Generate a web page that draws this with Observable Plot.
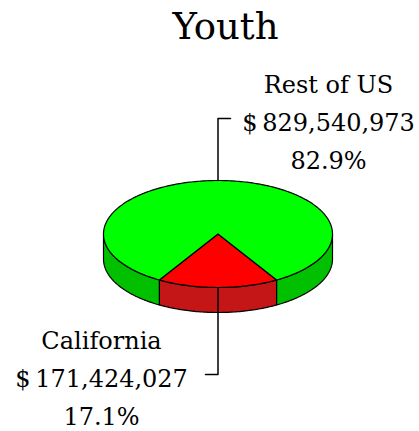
<!DOCTYPE html>
<html><head><meta charset="utf-8">
<script src="https://cdn.jsdelivr.net/npm/d3@7"></script>
<script src="https://cdn.jsdelivr.net/npm/@observablehq/plot@0.6"></script>
<style>body{margin:0;background:#fff}svg{display:block}</style>
</head><body><div id="chart"></div>
<script>
// ---- data ----
const title = "Youth";
const categories = ["California", "Rest of US"];
const amounts = [171424027, 829540973];
const percents = [17.1, 82.9];
const topColors = ["#ff0000", "#00ff00"];
const sideColors = ["#c41616", "#00c000"];

// ---- layout ----
const W = 419, H = 431;
const cx = 217.5, cy = 233.5, rx = 114.5, ry = 53.5, depth = 25;
const labelAnchors = [{x: 101, y: 374, side: -1}, {x: 328, y: 118, side: 1}];
const leaderTick = 12.5;

const fmt = d3.format(",");
const total = d3.sum(amounts);
const span0 = 2 * Math.PI * amounts[0] / total;
const start = Math.PI - span0 / 2;
const arcs = d3.pie().sort(null).startAngle(start).endAngle(start + 2 * Math.PI)(amounts);

const pt = (a, dz = 0) => ({x: cx + rx * Math.sin(a), y: cy - ry * Math.cos(a) + dz});
const steps = (a0, a1) => {
  const n = Math.max(2, Math.ceil(Math.abs(a1 - a0) / (Math.PI / 180)));
  return d3.range(n + 1).map(i => a0 + (a1 - a0) * i / n);
};

// side walls (front half only: a in [pi/2, 3pi/2] mod 2pi)
const sidePts = [];
arcs.forEach((d, i) => {
  for (let k = -1; k <= 2; k++) {
    const lo = Math.PI / 2 + 2 * Math.PI * k, hi = 3 * Math.PI / 2 + 2 * Math.PI * k;
    const a0 = Math.max(d.startAngle, lo), a1 = Math.min(d.endAngle, hi);
    if (a1 - a0 > 1e-6) {
      const id = `side-${i}-${k}`;
      const top = steps(a0, a1).map(a => pt(a));
      const bot = steps(a0, a1).reverse().map(a => pt(a, depth));
      [...top, ...bot].forEach(p => sidePts.push({...p, id, color: sideColors[i]}));
    }
  }
});

// top faces
const topPts = [];
arcs.forEach((d, i) => {
  const id = `top-${i}`;
  topPts.push({x: cx, y: cy, id, color: topColors[i]});
  steps(d.startAngle, d.endAngle).forEach(a => topPts.push({...pt(a), id, color: topColors[i]}));
});

// leaders
const leaderPts = [];
arcs.forEach((d, i) => {
  const am = (d.startAngle + d.endAngle) / 2;
  const e = pt(am);
  const L = labelAnchors[i];
  const id = `lead-${i}`;
  leaderPts.push({x: e.x, y: e.y, id});
  leaderPts.push({x: e.x, y: L.y, id});
  leaderPts.push({x: e.x + L.side * leaderTick, y: L.y, id});
});

const labels = categories.map((c, i) => ({
  x: labelAnchors[i].x, y: labelAnchors[i].y,
  text: `${c}\n$\u2009${fmt(amounts[i])}\n${percents[i].toFixed(1)}%`
}));

const chart = Plot.plot({
  width: W, height: H, margin: 0,
  x: {domain: [0, W], range: [0, W], axis: null},
  y: {domain: [0, H], range: [0, H], axis: null},
  color: {type: "identity"},
  style: {fontFamily: "'DejaVu Serif', serif", background: "#fff", color: "#000"},
  marks: [
    Plot.line(sidePts, {x: "x", y: "y", z: "id", fill: "color", stroke: "#000", strokeWidth: 1.2, curve: "linear-closed"}),
    Plot.line(topPts, {x: "x", y: "y", z: "id", fill: "color", stroke: "#000", strokeWidth: 1.2, curve: "linear-closed"}),
    Plot.line(leaderPts, {x: "x", y: "y", z: "id", stroke: "#000", strokeWidth: 1.5}),
    Plot.text(labels, {x: "x", y: "y", text: "text", fontSize: 24, lineHeight: 1.58, textAnchor: "middle", lineAnchor: "middle", fill: "#000"}),
    Plot.text([title], {frameAnchor: "top", dx: 15.5, dy: 12, lineAnchor: "top", fontSize: 37, fill: "#000"})
  ]
});
document.getElementById("chart").append(chart);
</script>
</body></html>
